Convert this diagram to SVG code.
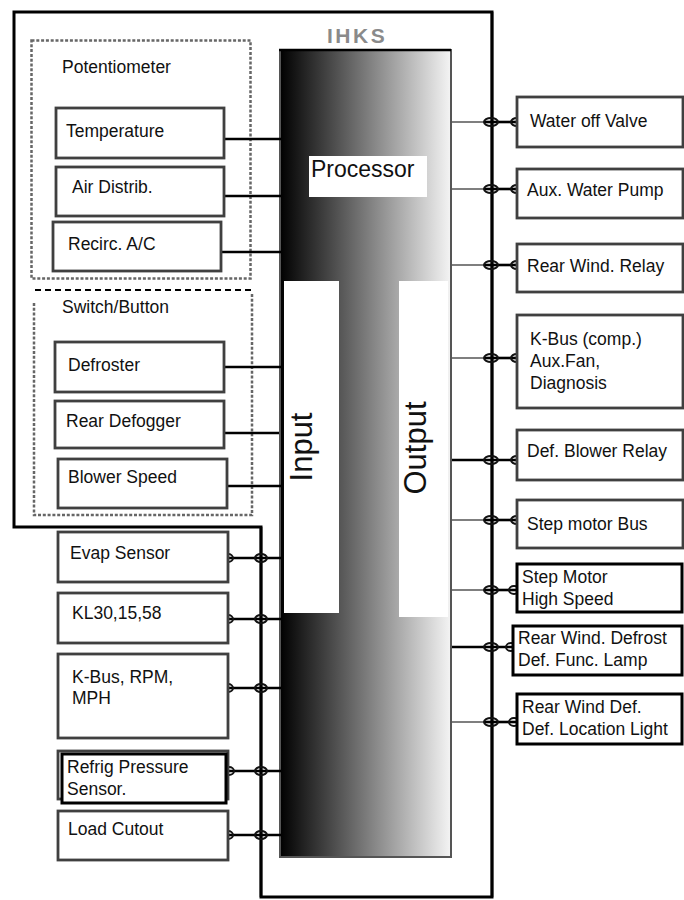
<svg xmlns="http://www.w3.org/2000/svg" width="684" height="900" viewBox="0 0 684 900">
<defs>
<linearGradient id="grad" x1="0" y1="0" x2="1" y2="0">
<stop offset="0" stop-color="#000"/>
<stop offset="1" stop-color="#f4f4f4"/>
</linearGradient>
<style>
text{font-family:"Liberation Sans",Arial,Helvetica,sans-serif;fill:#111}
.lbl{font-size:17.5px}
.box{fill:#fff;stroke:#404040;stroke-width:2.8}
.hbox{fill:#fff;stroke:#000;stroke-width:3}
.wire{stroke:#000;stroke-width:2.6;fill:none}
.thin{stroke:#555;stroke-width:1.6;fill:none}
.plug{fill:none;stroke:#111;stroke-width:2}
.dot{fill:none;stroke:#666;stroke-width:2.5;stroke-dasharray:3 1.8}
</style>
</defs>
<rect width="684" height="900" fill="#fff"/>

<g id="frame">
<path d="M14,12 H492 V897 H261 V527 H14 Z" fill="none" stroke="#000" stroke-width="3"/>
<text x="327" y="43" style="font-size:21px;font-weight:bold;fill:#8a8a8a;letter-spacing:2.5px">IHKS</text>
</g>

<g id="processor">
<rect x="280" y="50" width="171" height="807" fill="url(#grad)" stroke="#555" stroke-width="2"/>
<line x1="279" y1="50" x2="451" y2="50" stroke="#000" stroke-width="2.5"/>
<rect x="309" y="156" width="118" height="41" fill="#fff"/>
<text x="311" y="177" style="font-size:23px">Processor</text>
</g>
<g id="input">
<rect x="284" y="281" width="55" height="332" fill="#fff"/>
<text transform="translate(312,447) rotate(-90)" text-anchor="middle" style="font-size:31px">Input</text>
</g>
<g id="output">
<rect x="399" y="281" width="49" height="336" fill="#fff"/>
<text transform="translate(426,448) rotate(-90)" text-anchor="middle" style="font-size:31px">Output</text>
</g>

<g id="potentiometer">
<rect class="dot" x="31.5" y="40.5" width="219" height="238"/>
<text class="lbl" x="62" y="73">Potentiometer</text>
</g>
<g id="switch-button">
<path class="dot" d="M34,303 V515 H252 V293"/>
<line x1="35" y1="290" x2="252" y2="290" stroke="#000" stroke-width="2" stroke-dasharray="6 4"/>
<text class="lbl" x="62" y="313">Switch/Button</text>
</g>

<g id="connectors">
<line class="wire" x1="224" y1="139" x2="281" y2="139"/>
<line class="wire" x1="224" y1="196" x2="281" y2="196"/>
<line class="wire" x1="221" y1="252" x2="281" y2="252"/>
<line class="wire" x1="224" y1="367" x2="281" y2="367"/>
<line class="wire" x1="224" y1="433" x2="279" y2="433"/>
<line class="wire" x1="227" y1="486" x2="281" y2="486"/>

<line class="wire" x1="492" y1="12" x2="492" y2="897" stroke-width="3"/>
<line class="wire" x1="261" y1="527" x2="261" y2="897" stroke-width="3"/>

<g id="lc-evap"><line class="wire" x1="227" y1="558" x2="281" y2="558"/><ellipse class="plug" cx="228" cy="558" rx="5" ry="4"/><ellipse class="plug" cx="261" cy="558" rx="6" ry="4"/></g>
<g id="lc-kl30"><line class="wire" x1="227" y1="619" x2="281" y2="619"/><ellipse class="plug" cx="228" cy="619" rx="5" ry="4"/><ellipse class="plug" cx="261" cy="619" rx="6" ry="4"/></g>
<g id="lc-kbus"><line class="wire" x1="227" y1="688" x2="281" y2="688"/><ellipse class="plug" cx="228" cy="688" rx="5" ry="4"/><ellipse class="plug" cx="261" cy="688" rx="6" ry="4"/></g>
<g id="lc-refrig"><line class="wire" x1="227" y1="771" x2="281" y2="771"/><ellipse class="plug" cx="229" cy="771" rx="5" ry="4"/><ellipse class="plug" cx="261" cy="771" rx="6" ry="4"/></g>
<g id="lc-load"><line class="wire" x1="227" y1="835" x2="281" y2="835"/><ellipse class="plug" cx="228" cy="835" rx="5" ry="4"/><ellipse class="plug" cx="261" cy="835" rx="6" ry="4"/></g>

<g id="rc-water"><line class="thin" x1="452" y1="122" x2="485" y2="122"/><line class="wire" x1="485" y1="122" x2="517" y2="122"/><ellipse class="plug" cx="491" cy="122" rx="7" ry="4"/><ellipse class="plug" cx="517" cy="122" rx="6" ry="4"/></g>
<g id="rc-aux"><line class="thin" x1="452" y1="189" x2="485" y2="189"/><line class="wire" x1="485" y1="189" x2="517" y2="189"/><ellipse class="plug" cx="491" cy="189" rx="7" ry="4"/><ellipse class="plug" cx="517" cy="189" rx="6" ry="4"/></g>
<g id="rc-relay"><line class="thin" x1="452" y1="265" x2="485" y2="265"/><line class="wire" x1="485" y1="265" x2="517" y2="265"/><ellipse class="plug" cx="491" cy="265" rx="7" ry="4"/><ellipse class="plug" cx="517" cy="265" rx="6" ry="4"/></g>
<g id="rc-kbus"><line class="thin" x1="452" y1="358" x2="485" y2="358"/><line class="wire" x1="485" y1="358" x2="517" y2="358"/><ellipse class="plug" cx="491" cy="358" rx="7" ry="4"/><ellipse class="plug" cx="517" cy="358" rx="6" ry="4"/></g>
<g id="rc-blower"><line class="wire" x1="452" y1="460" x2="517" y2="460"/><ellipse class="plug" cx="491" cy="460" rx="7" ry="4"/><ellipse class="plug" cx="517" cy="460" rx="6" ry="4"/></g>
<g id="rc-stepbus"><line class="thin" x1="452" y1="520" x2="485" y2="520"/><line class="wire" x1="485" y1="520" x2="517" y2="520"/><ellipse class="plug" cx="491" cy="520" rx="7" ry="4"/><ellipse class="plug" cx="517" cy="520" rx="6" ry="4"/></g>
<g id="rc-stephs"><line class="thin" x1="452" y1="590" x2="485" y2="590"/><line class="wire" x1="485" y1="590" x2="517" y2="590"/><ellipse class="plug" cx="491" cy="590" rx="7" ry="4"/><ellipse class="plug" cx="514" cy="590" rx="5" ry="4"/></g>
<g id="rc-defrost"><line class="wire" x1="452" y1="647" x2="513" y2="647"/><ellipse class="plug" cx="491" cy="647" rx="7" ry="4"/><ellipse class="plug" cx="511" cy="647" rx="5" ry="4"/></g>
<g id="rc-location"><line class="thin" x1="452" y1="722" x2="485" y2="722"/><line class="wire" x1="485" y1="722" x2="517" y2="722"/><ellipse class="plug" cx="491" cy="722" rx="7" ry="4"/><ellipse class="plug" cx="514" cy="722" rx="5" ry="4"/></g>
</g>

<g id="temperature"><rect class="box" x="56" y="108" width="168" height="50"/><text class="lbl" x="66" y="137">Temperature</text></g>
<g id="air-distrib"><rect class="box" x="56" y="167" width="168" height="49"/><text class="lbl" x="72" y="193">Air Distrib.</text></g>
<g id="recirc"><rect class="box" x="53" y="222" width="168" height="49"/><text class="lbl" x="68" y="250">Recirc. A/C</text></g>
<g id="defroster"><rect class="box" x="55" y="342" width="169" height="50"/><text class="lbl" x="68" y="371">Defroster</text></g>
<g id="rear-defogger"><rect class="box" x="55" y="401" width="169" height="47"/><text class="lbl" x="66" y="427">Rear Defogger</text></g>
<g id="blower-speed"><rect class="box" x="58" y="459" width="169" height="49"/><text class="lbl" x="68" y="483">Blower Speed</text></g>

<g id="evap"><rect class="box" x="58" y="532" width="170" height="50"/><text class="lbl" x="70" y="559">Evap Sensor</text></g>
<g id="kl30"><rect class="box" x="58" y="593" width="170" height="50"/><text class="lbl" x="72" y="619">KL30,15,58</text></g>
<g id="kbus-rpm"><rect class="box" x="58" y="654" width="170" height="84"/><text class="lbl" x="72" y="683">K-Bus, RPM,</text><text class="lbl" x="72" y="704">MPH</text></g>
<g id="refrig"><rect class="box" x="58" y="751" width="170" height="48"/><rect class="hbox" x="62" y="754" width="164" height="49"/><text class="lbl" x="67" y="773">Refrig Pressure</text><text class="lbl" x="67" y="795">Sensor.</text></g>
<g id="load-cutout"><rect class="box" x="58" y="811" width="170" height="49"/><text class="lbl" x="68" y="835">Load Cutout</text></g>

<g id="water-valve"><rect class="box" x="517" y="97" width="166" height="50"/><text class="lbl" x="530" y="127">Water off Valve</text></g>
<g id="aux-pump"><rect class="box" x="517" y="169" width="166" height="49"/><text class="lbl" x="527" y="196">Aux. Water Pump</text></g>
<g id="rear-relay"><rect class="box" x="517" y="244" width="166" height="48"/><text class="lbl" x="527" y="272">Rear Wind. Relay</text></g>
<g id="kbus-comp"><rect class="box" x="517" y="315" width="166" height="93"/><text class="lbl" x="530" y="345">K-Bus (comp.)</text><text class="lbl" x="530" y="367">Aux.Fan,</text><text class="lbl" x="530" y="389">Diagnosis</text></g>
<g id="def-blower"><rect class="box" x="517" y="430" width="166" height="50"/><text class="lbl" x="527" y="457">Def. Blower Relay</text></g>
<g id="step-bus"><rect class="box" x="517" y="500" width="166" height="48"/><text class="lbl" x="527" y="530">Step motor Bus</text></g>
<g id="step-hs"><rect class="hbox" x="517" y="564" width="165" height="48"/><text class="lbl" x="522" y="583">Step Motor</text><text class="lbl" x="522" y="605">High Speed</text></g>
<g id="rear-defrost"><rect class="hbox" x="513" y="626" width="169" height="49"/><text class="lbl" x="518" y="644">Rear Wind. Defrost</text><text class="lbl" x="518" y="666">Def. Func. Lamp</text></g>
<g id="rear-def"><rect class="hbox" x="517" y="694" width="165" height="50"/><text class="lbl" x="522" y="713">Rear Wind Def.</text><text class="lbl" x="522" y="735">Def. Location Light</text></g>
</svg>
